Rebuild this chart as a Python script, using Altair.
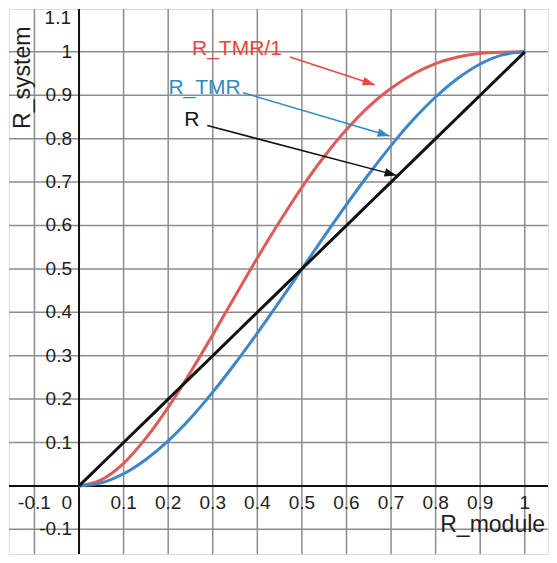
import math
import altair as alt
import pandas as pd

# ---- data ----
r_module = [0, 0.05, 0.1, 0.15, 0.2, 0.25, 0.3, 0.35, 0.4, 0.45, 0.5,
            0.55, 0.6, 0.65, 0.7, 0.75, 0.8, 0.85, 0.9, 0.95, 1]
r_tmr1 = [0, 0.014, 0.052, 0.11, 0.181, 0.262, 0.348, 0.437, 0.525, 0.609, 0.688,
          0.759, 0.821, 0.874, 0.916, 0.949, 0.973, 0.988, 0.996, 0.999, 1]
r_tmr = [0, 0.007, 0.028, 0.061, 0.104, 0.156, 0.216, 0.282, 0.352, 0.425, 0.5,
         0.575, 0.648, 0.718, 0.784, 0.844, 0.896, 0.939, 0.972, 0.993, 1]
r_simple = [0, 0.05, 0.1, 0.15, 0.2, 0.25, 0.3, 0.35, 0.4, 0.45, 0.5,
            0.55, 0.6, 0.65, 0.7, 0.75, 0.8, 0.85, 0.9, 0.95, 1]

series_names = ["R_TMR/1", "R_TMR", "R"]
series_colors = ["#df5b57", "#3f86c8", "#111111"]
label_colors = ["#e8453c", "#2f8ac4", "#111111"]

grid_x = [-0.1, 0.1, 0.2, 0.3, 0.4, 0.5, 0.6, 0.7, 0.8, 0.9, 1.0]
grid_y = [-0.1, 0.1, 0.2, 0.3, 0.4, 0.5, 0.6, 0.7, 0.8, 0.9, 1.0]
x_tick_values = [-0.1, 0.1, 0.2, 0.3, 0.4, 0.5, 0.6, 0.7, 0.8, 0.9, 1.0]
x_tick_labels = ["-0.1", "0.1", "0.2", "0.3", "0.4", "0.5", "0.6", "0.7", "0.8", "0.9", "1"]
y_tick_values = [-0.1, 0.1, 0.2, 0.3, 0.4, 0.5, 0.6, 0.7, 0.8, 0.9, 1.0]
y_tick_labels = ["-0.1", "0.1", "0.2", "0.3", "0.4", "0.5", "0.6", "0.7", "0.8", "0.9", "1"]

# annotation arrows (label anchor, arrow start, arrow tip) in data units
ann_label_x = [0.2535, 0.2005, 0.2363]
ann_label_y = [0.993, 0.9036, 0.8302]
arrow_x1 = [0.4732, 0.3681, 0.2877]
arrow_y1 = [0.9881, 0.9059, 0.8302]
arrow_x2 = [0.6632, 0.6967, 0.7124]
arrow_y2 = [0.924, 0.806, 0.7154]

# ---- layout ----
W, H = 541, 547
X_DOMAIN = [-0.1571, 1.0521]
Y_DOMAIN = [-0.1568, 1.0987]
PX_X = W / (X_DOMAIN[1] - X_DOMAIN[0])
PX_Y = H / (Y_DOMAIN[1] - Y_DOMAIN[0])
FONT = "Liberation Sans"
GRID = "#8c8c8c"
TXT = "#1e1e1e"

xs = alt.Scale(domain=X_DOMAIN, nice=False, zero=False)
ys = alt.Scale(domain=Y_DOMAIN, nice=False, zero=False)

curves = pd.DataFrame({
    "x": r_module * 3,
    "y": r_tmr1 + r_tmr + r_simple,
    "s": [series_names[0]] * len(r_module) + [series_names[1]] * len(r_module)
         + [series_names[2]] * len(r_module),
    "o": list(range(len(r_module))) * 3,
})

gx = alt.Chart(pd.DataFrame({"x": grid_x})).mark_rule(color=GRID, strokeWidth=1.5).encode(
    x=alt.X("x:Q", scale=xs, axis=None))
gy = alt.Chart(pd.DataFrame({"y": grid_y})).mark_rule(color=GRID, strokeWidth=1.5).encode(
    y=alt.Y("y:Q", scale=ys, axis=None))
ax_y = alt.Chart(pd.DataFrame({"x": [0.0]})).mark_rule(color="#111111", strokeWidth=2).encode(
    x=alt.X("x:Q", scale=xs, axis=None))
ax_x = alt.Chart(pd.DataFrame({"y": [0.0]})).mark_rule(color="#111111", strokeWidth=2).encode(
    y=alt.Y("y:Q", scale=ys, axis=None))

lines = alt.Chart(curves).mark_line(strokeWidth=3, interpolate="monotone").encode(
    x=alt.X("x:Q", scale=xs, axis=None),
    y=alt.Y("y:Q", scale=ys, axis=None),
    color=alt.Color("s:N", scale=alt.Scale(domain=series_names, range=series_colors), legend=None),
    order="o:Q",
    detail="s:N",
)

xlab = alt.Chart(pd.DataFrame({"x": x_tick_values, "t": x_tick_labels, "y": [0.0] * len(x_tick_values)})).mark_text(
    font=FONT, fontSize=19, color=TXT, align="center", baseline="middle", dy=17).encode(
    x=alt.X("x:Q", scale=xs, axis=None), y=alt.Y("y:Q", scale=ys, axis=None), text="t:N")
zlab = alt.Chart(pd.DataFrame({"x": [0.0], "y": [0.0], "t": ["0"]})).mark_text(
    font=FONT, fontSize=19, color=TXT, align="right", baseline="middle", dx=-7, dy=17).encode(
    x=alt.X("x:Q", scale=xs, axis=None), y=alt.Y("y:Q", scale=ys, axis=None), text="t:N")
ylab = alt.Chart(pd.DataFrame({"y": y_tick_values, "t": y_tick_labels, "x": [0.0] * len(y_tick_values)})).mark_text(
    font=FONT, fontSize=19, color=TXT, align="right", baseline="middle", dx=-7).encode(
    x=alt.X("x:Q", scale=xs, axis=None), y=alt.Y("y:Q", scale=ys, axis=None), text="t:N")
toplab = alt.Chart(pd.DataFrame({"y": [1.1], "t": ["1.1"], "x": [0.0]})).mark_text(
    font=FONT, fontSize=19, color=TXT, align="right", baseline="middle", dx=-8, dy=10).encode(
    x=alt.X("x:Q", scale=xs, axis=None), y=alt.Y("y:Q", scale=ys, axis=None), text="t:N")

xtitle = alt.Chart(pd.DataFrame({"x": [0.928], "y": [-0.1063], "t": ["R_module"]})).mark_text(
    font=FONT, fontSize=23, color=TXT, align="center", baseline="alphabetic").encode(
    x=alt.X("x:Q", scale=xs, axis=None), y=alt.Y("y:Q", scale=ys, axis=None), text="t:N")
ytitle = alt.Chart(pd.DataFrame({"x": [-0.1265], "y": [0.9403], "t": ["R_system"]})).mark_text(
    font=FONT, fontSize=23, color=TXT, align="center", baseline="middle", angle=270).encode(
    x=alt.X("x:Q", scale=xs, axis=None), y=alt.Y("y:Q", scale=ys, axis=None), text="t:N")

ann = pd.DataFrame({
    "s": series_names, "lx": ann_label_x, "ly": ann_label_y,
    "x1": arrow_x1, "y1": arrow_y1, "x2": arrow_x2, "y2": arrow_y2,
    "ang": [math.degrees(math.atan2(-(b2 - b1) * PX_Y, (a2 - a1) * PX_X)) % 360
            for a1, b1, a2, b2 in zip(arrow_x1, arrow_y1, arrow_x2, arrow_y2)],
})
acol = alt.Color("s:N", scale=alt.Scale(domain=series_names, range=label_colors), legend=None)
ann_text = alt.Chart(ann).mark_text(font=FONT, fontSize=21, align="left", baseline="alphabetic").encode(
    x=alt.X("lx:Q", scale=xs, axis=None), y=alt.Y("ly:Q", scale=ys, axis=None), text="s:N", color=acol)
ann_line = alt.Chart(ann).mark_rule(strokeWidth=1.5).encode(
    x=alt.X("x1:Q", scale=xs, axis=None), y=alt.Y("y1:Q", scale=ys, axis=None),
    x2="x2:Q", y2="y2:Q", color=acol)
ann_head = alt.Chart(ann).mark_point(shape="M0,0L-1,-0.36L-1,0.36Z", filled=True, opacity=1, size=576).encode(
    x=alt.X("x2:Q", scale=xs, axis=None), y=alt.Y("y2:Q", scale=ys, axis=None),
    angle=alt.Angle("ang:Q", scale=None), color=acol)

chart = alt.layer(gx, gy, ax_y, ax_x, lines, xlab, zlab, ylab, toplab, xtitle, ytitle,
                  ann_line, ann_head, ann_text).resolve_scale(color="independent").properties(
    width=W, height=H, padding=0,
    autosize=alt.AutoSizeParams(type="fit", contains="padding"),
).configure_view(stroke=None).configure(background="white")

chart.save("out.html", embed_options={"renderer": "svg", "actions": False})
